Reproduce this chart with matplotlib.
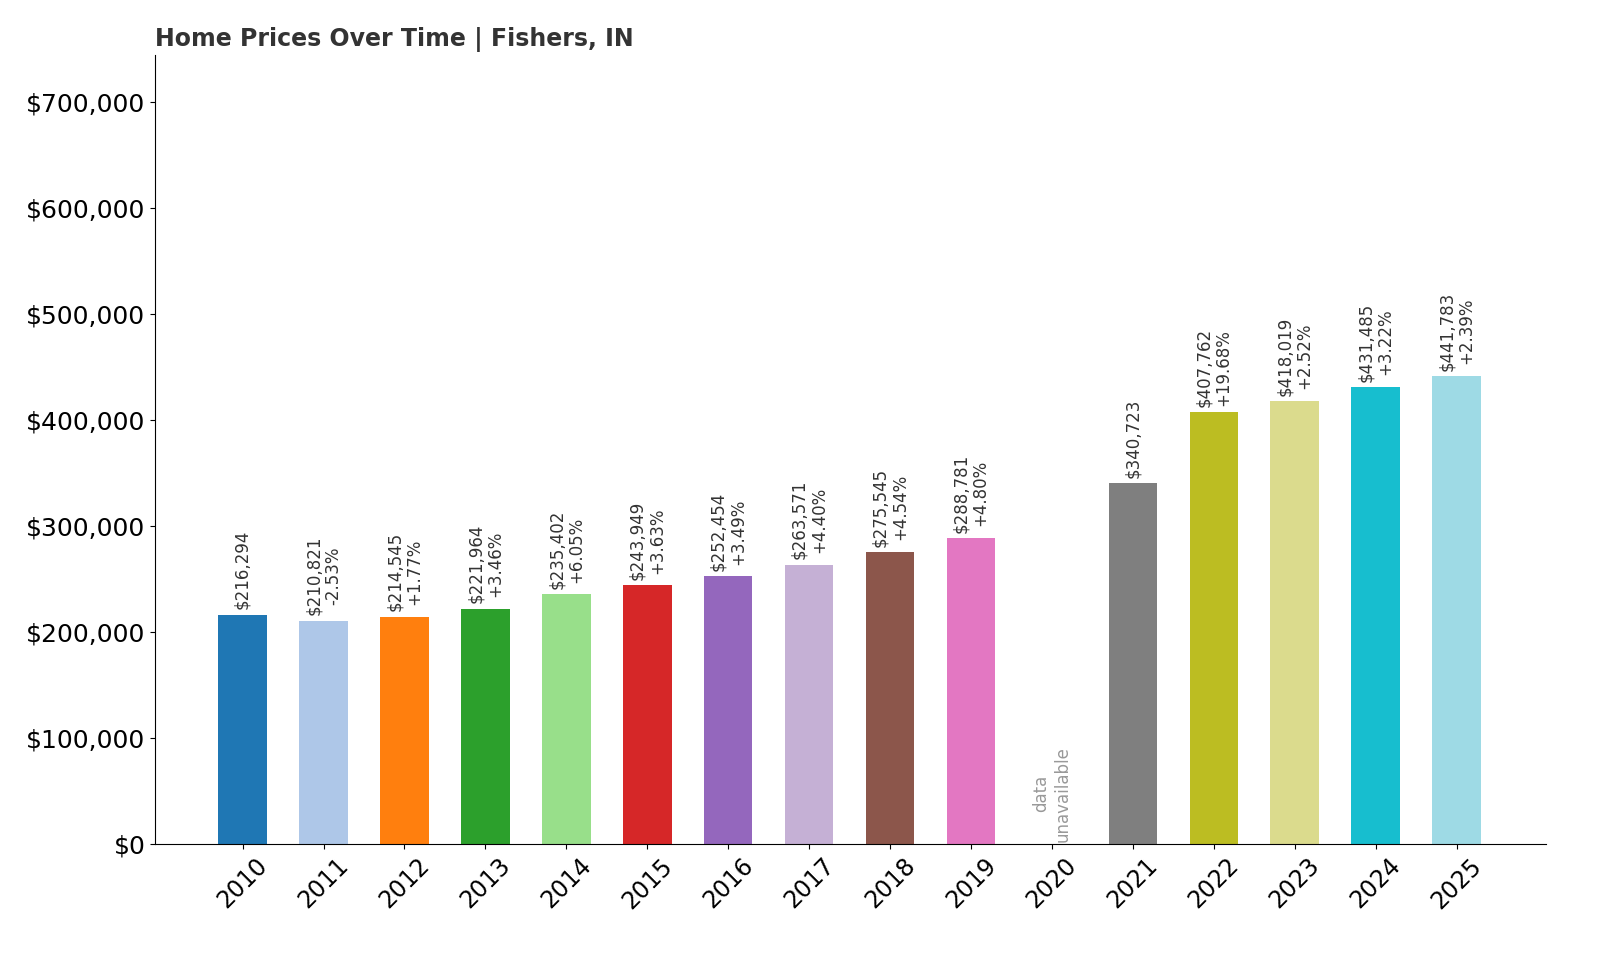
import matplotlib

matplotlib.use("Agg")

import matplotlib.pyplot as plt
from matplotlib.ticker import FuncFormatter

# Data
years = [str(y) for y in range(2010, 2026)]
prices = [216294, 210821, 214545, 221964, 235402, 243949, 252454, 263571,
          275545, 288781, None, 340723, 407762, 418019, 431485, 441783]
changes = [None, "-2.53%", "+1.77%", "+3.46%", "+6.05%", "+3.63%", "+3.49%", "+4.40%",
           "+4.54%", "+4.80%", None, None, "+19.68%", "+2.52%", "+3.22%", "+2.39%"]
colors = ["#1f77b4", "#aec7e8", "#ff7f0e", "#2ca02c", "#98df8a", "#d62728",
          "#9467bd", "#c5b0d5", "#8c564b", "#e377c2", "#f7b6d2", "#7f7f7f",
          "#bcbd22", "#dbdb8d", "#17becf", "#9edae5"]

fig = plt.figure(figsize=(16, 9.6), dpi=100)
ax = fig.add_axes([0.097, 0.121, 0.869, 0.822])

for i, (year, price) in enumerate(zip(years, prices)):
    if price is None:
        ax.text(i, 2000, "data\nunavailable", rotation=90, ha="center", va="bottom",
                fontsize=12, color="#999999")
        continue
    ax.bar(i, price, width=0.6, color=colors[i])
    label = f"${price:,}"
    if changes[i]:
        label += f"\n{changes[i]}"
    ax.text(i, price + 5000, label, rotation=90, ha="center", va="bottom",
            fontsize=12, color="#333333", linespacing=1.1)

ax.set_xticks(range(len(years)))
ax.set_xticklabels(years, rotation=45, fontsize=17)
ax.set_ylim(0, 745000)
ax.set_xlim(-1.08, 16.1)
ax.set_yticks(range(0, 700001, 100000))
ax.yaxis.set_major_formatter(FuncFormatter(lambda v, _: f"${v:,.0f}"))
ax.tick_params(axis="y", labelsize=18)
ax.spines["top"].set_visible(False)
ax.spines["right"].set_visible(False)

ax.set_title("Home Prices Over Time | Fishers, IN", loc="left", fontsize=17,
             fontweight="bold", color="#333333")

fig.savefig("out.png", dpi=100)
